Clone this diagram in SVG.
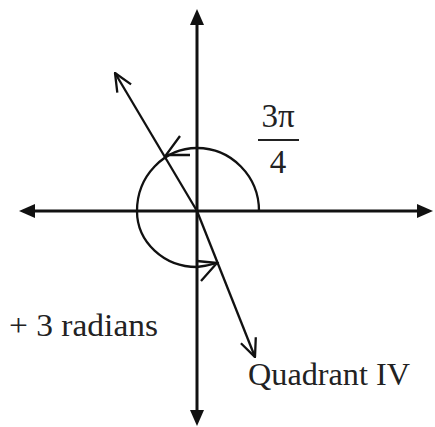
<svg xmlns="http://www.w3.org/2000/svg" width="435" height="427" viewBox="0 0 435 427">
<style>
.axis{stroke:#111;stroke-width:3;fill:none}
.ray{stroke:#111;stroke-width:2.3;fill:none}
.lbl{font-family:"Liberation Serif","Times New Roman",serif;fill:#222}
</style>
<defs>
<marker id="tri" viewBox="0 0 16 14" refX="6" refY="7" markerWidth="16" markerHeight="14" markerUnits="userSpaceOnUse" orient="auto-start-reverse">
<path d="M0,0 L16,7 L0,14 z" fill="#111"/>
</marker>
<marker id="open" viewBox="0 0 20 18" refX="19" refY="9" markerWidth="20" markerHeight="18" markerUnits="userSpaceOnUse" orient="auto">
<path d="M1,1 L19,9 L1,17" fill="none" stroke="#111" stroke-width="2.3" stroke-linejoin="miter"/>
</marker>
</defs>
<rect width="435" height="427" fill="#fff"/>
<g id="axes">
<line id="x-axis" class="axis" x1="29" y1="211" x2="423" y2="211" marker-start="url(#tri)" marker-end="url(#tri)"/>
<line id="y-axis" class="axis" x1="197" y1="19" x2="197" y2="416" marker-start="url(#tri)" marker-end="url(#tri)"/>
</g>
<g id="connectors">
<line id="ray-3pi4" class="ray" x1="197" y1="211" x2="115" y2="73" marker-end="url(#open)"/>
<line id="ray-3rad" class="ray" x1="197" y1="211" x2="255" y2="357" marker-end="url(#open)"/>
<path id="arc" class="ray" d="M259,211 A62,63 0 0 0 197,148 A60,63 0 0 0 137,211 A60,56 0 0 0 197,267 Q207,266 217,263"/>
<path id="arc-arrow-top" class="ray" d="M180,136 L166,155 L190,155"/>
<path id="arc-arrow-bottom" class="ray" d="M197,261 L217,263 L201,281"/>
</g>
<g id="label-3pi4">
<text class="lbl" x="278" y="127" font-size="33" text-anchor="middle">3π</text>
<line x1="258" y1="140" x2="299" y2="140" stroke="#222" stroke-width="2"/>
<text class="lbl" x="278" y="173" font-size="33" text-anchor="middle">4</text>
</g>
<g id="label-3rad">
<text class="lbl" x="9" y="336" font-size="32" textLength="149" lengthAdjust="spacingAndGlyphs">+ 3 radians</text>
</g>
<g id="label-q4">
<text class="lbl" x="248" y="385" font-size="32" textLength="162" lengthAdjust="spacingAndGlyphs">Quadrant IV</text>
</g>
</svg>
